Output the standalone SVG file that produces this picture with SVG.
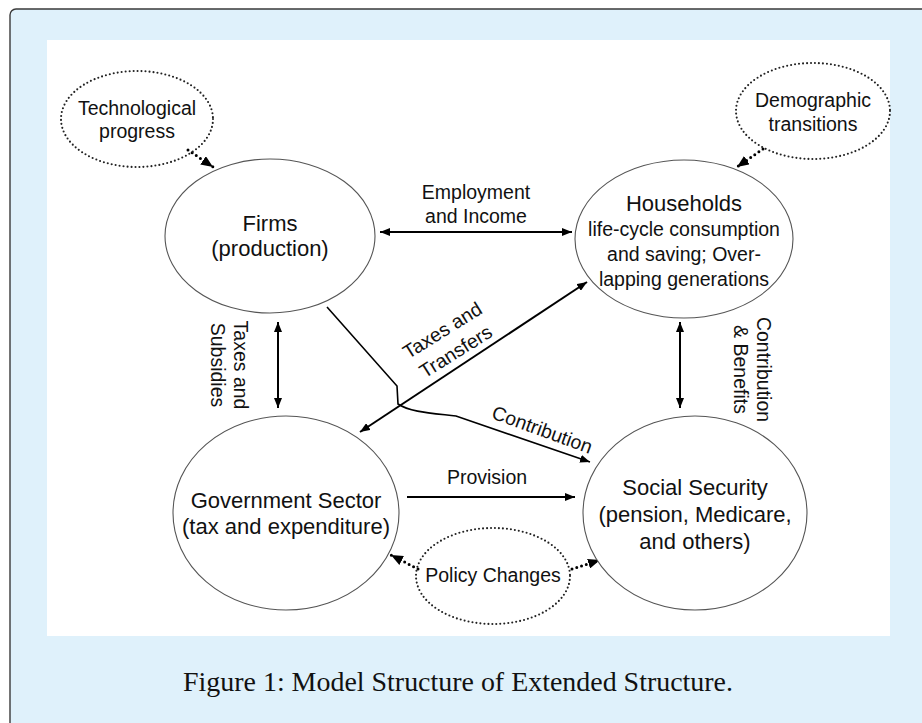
<svg xmlns="http://www.w3.org/2000/svg" width="922" height="723" viewBox="0 0 922 723">
  <style>
    .lbl { font-family: "Liberation Sans", Arial, sans-serif; fill: #111; text-anchor: middle; }
    .big { font-size: 22px; }
    .sm { font-size: 19.5px; }
    .node { fill: #fff; stroke: #555; stroke-width: 1.1; }
    .dot { fill: none; stroke: #222; stroke-width: 2.1; stroke-dasharray: 0 4; stroke-linecap: round; }
    .edge { fill: none; stroke: #000; stroke-width: 2; }
    .dedge { fill: none; stroke: #000; stroke-width: 3; stroke-dasharray: 0 5; stroke-linecap: round; }
    .cap { font-family: "Liberation Serif", "Times New Roman", serif; font-size: 27.5px; fill: #111; }
  </style>
  <defs>
    <marker id="arr" viewBox="0 0 10 8" refX="10" refY="4" markerWidth="10" markerHeight="8" markerUnits="userSpaceOnUse" orient="auto-start-reverse">
      <path d="M0,0 L10,4 L0,8 z" fill="#000"/>
    </marker>
    <marker id="arrD" viewBox="0 0 12 10" refX="12" refY="5" markerWidth="12" markerHeight="10" markerUnits="userSpaceOnUse" orient="auto">
      <path d="M0,0 L12,5 L0,10 z" fill="#000"/>
    </marker>
  </defs>

  <!-- page frame and white figure panel -->
  <rect x="10" y="9" width="940" height="740" rx="6" fill="#dff1fb" stroke="#3a3a3a" stroke-width="1.4"/>
  <rect x="47" y="40" width="843" height="596" fill="#fff"/>

  <!-- connectors -->
  <g id="connectors">
    <path class="dedge" d="M188,150 L213,167" marker-end="url(#arrD)"/>
    <path class="dedge" d="M763,149 L737,167" marker-end="url(#arrD)"/>
    <path class="dedge" d="M418,569 L391,555" marker-end="url(#arrD)"/>
    <path class="dedge" d="M572,569 L600,560" marker-end="url(#arrD)"/>

    <line class="edge" x1="380" y1="232" x2="572" y2="232" marker-start="url(#arr)" marker-end="url(#arr)"/>
    <line class="edge" x1="278" y1="322" x2="278" y2="408" marker-start="url(#arr)" marker-end="url(#arr)"/>
    <line class="edge" x1="680" y1="322" x2="680" y2="408" marker-start="url(#arr)" marker-end="url(#arr)"/>
    <line class="edge" x1="587" y1="282" x2="360" y2="432" marker-start="url(#arr)" marker-end="url(#arr)"/>
    <line class="edge" x1="407" y1="497" x2="575" y2="497" marker-end="url(#arr)"/>
    <path class="edge" style="stroke-width:1.6" d="M327,307 L397,386 L398,404 C410,412 430,413 456,416 L590,462" marker-end="url(#arr)"/>

    <text class="lbl sm" x="476" y="199">Employment</text>
    <text class="lbl sm" x="476" y="223">and Income</text>
    <g transform="translate(234,365) rotate(90)">
      <text class="lbl sm" x="0" y="0">Taxes and</text>
      <text class="lbl sm" x="0" y="23">Subsidies</text>
    </g>
    <g transform="translate(757,369.5) rotate(90)">
      <text class="lbl sm" x="0" y="0">Contribution</text>
      <text class="lbl sm" x="0" y="23">&amp; Benefits</text>
    </g>
    <g transform="translate(446,336) rotate(-32)">
      <text class="lbl sm" x="0" y="0">Taxes and</text>
      <text class="lbl sm" x="0" y="25">Transfers</text>
    </g>
    <text class="lbl sm" transform="translate(540,436) rotate(20)">Contribution</text>
    <text class="lbl sm" x="487" y="484">Provision</text>
  </g>

  <!-- drivers (dotted) -->
  <g id="tech">
    <ellipse class="dot" cx="137" cy="119" rx="76" ry="48"/>
    <text class="lbl sm" x="137" y="115">Technological</text>
    <text class="lbl sm" x="137" y="138">progress</text>
  </g>
  <g id="demo">
    <ellipse class="dot" cx="813" cy="111" rx="77" ry="48"/>
    <text class="lbl sm" x="813" y="107">Demographic</text>
    <text class="lbl sm" x="813" y="131">transitions</text>
  </g>
  <g id="policy">
    <ellipse class="dot" cx="493" cy="576" rx="77" ry="48"/>
    <text class="lbl sm" x="493" y="582">Policy Changes</text>
  </g>

  <!-- sectors -->
  <g id="firms">
    <ellipse class="node" cx="270" cy="236" rx="105" ry="77"/>
    <text class="lbl big" x="270" y="231">Firms</text>
    <text class="lbl big" x="270" y="256">(production)</text>
  </g>
  <g id="households">
    <ellipse class="node" cx="684" cy="239" rx="109" ry="79"/>
    <text class="lbl big" x="684" y="211">Households</text>
    <text class="lbl sm" x="684" y="236">life-cycle consumption</text>
    <text class="lbl sm" x="684" y="261">and saving; Over-</text>
    <text class="lbl sm" x="684" y="286">lapping generations</text>
  </g>
  <g id="government">
    <ellipse class="node" cx="286" cy="513" rx="113" ry="97"/>
    <text class="lbl big" x="286" y="508">Government Sector</text>
    <text class="lbl big" x="286" y="534">(tax and expenditure)</text>
  </g>
  <g id="social-security">
    <ellipse class="node" cx="695" cy="513" rx="112" ry="97"/>
    <text class="lbl big" x="695" y="495">Social Security</text>
    <text class="lbl big" x="695" y="522">(pension, Medicare,</text>
    <text class="lbl big" x="695" y="549">and others)</text>
  </g>

  <text class="cap" x="183" y="691" textLength="550" lengthAdjust="spacingAndGlyphs">Figure 1: Model Structure of Extended Structure.</text>
</svg>
